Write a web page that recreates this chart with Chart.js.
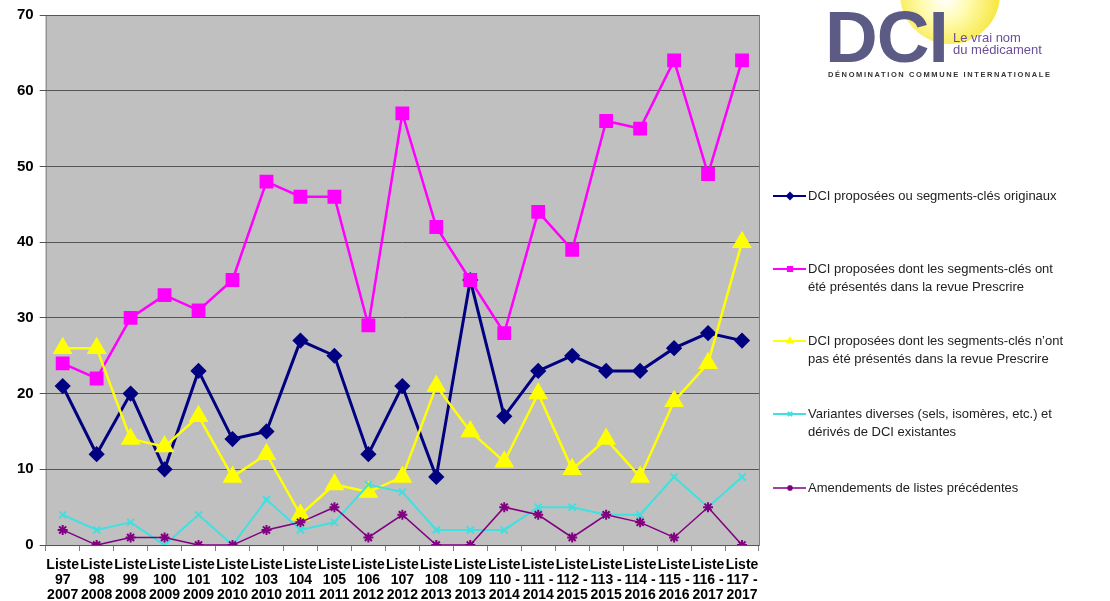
<!DOCTYPE html>
<html>
<head>
<meta charset="utf-8">
<script src="https://cdn.jsdelivr.net/npm/chart.js@4.4.0/dist/chart.umd.min.js"></script>
<style>
  body { margin: 0; background: #fff; overflow: hidden; }
  #wrap { position: relative; width: 1110px; height: 601px; overflow: hidden; }
  #logo { position: absolute; left: 820px; top: 0; width: 280px; height: 90px; font-family: Arial, "Liberation Sans", sans-serif; }
  #sun { position: absolute; left: 80px; top: -56px; width: 100px; height: 100px; border-radius: 50%;
         background: radial-gradient(circle at 45% 55%, #ffffff 0%, #fffbb0 30%, #f8e640 70%, #ecd000 100%); }
  #dci { position: absolute; left: 5px; top: -5px; font-size: 73px; font-weight: bold; color: #5c5b85; letter-spacing: -1px; }
  #tag { position: absolute; left: 133px; top: 32px; font-size: 13px; line-height: 12px; color: #6a4f98; }
  #sub { position: absolute; left: 8px; top: 70px; font-size: 7.5px; font-weight: bold; color: #333; letter-spacing: 1.6px; white-space: nowrap; }
</style>
</head>
<body>
<div id="wrap">
  <canvas id="chart" width="1110" height="610"></canvas>
  <div id="logo">
    <div id="sun"></div>
    <div id="dci">DCI</div>
    <div id="tag">Le vrai nom<br>du médicament</div>
    <div id="sub">DÉNOMINATION COMMUNE INTERNATIONALE</div>
  </div>
</div>
<script>
// Categories (x axis)
const listes = ['97', '98', '99', '100', '101', '102', '103', '104', '105', '106', '107',
                '108', '109', '110 -', '111 -', '112 -', '113 -', '114 -', '115 -', '116 -', '117 -'];
const annees = ['2007', '2008', '2008', '2009', '2009', '2010', '2010', '2011', '2011', '2012', '2012',
                '2013', '2013', '2014', '2014', '2015', '2015', '2016', '2016', '2017', '2017'];

// Series values
const originaux   = [21, 12, 20, 10, 23, 14, 15, 27, 25, 12, 21, 9, 35, 17, 23, 25, 23, 23, 26, 28, 27];
const presentes   = [24, 22, 30, 33, 31, 35, 48, 46, 46, 29, 57, 42, 35, 28, 44, 39, 56, 55, 64, 49, 64];
const nonPresentes = [26, 26, 14, 13, 17, 9, 12, 4, 8, 7, 9, 21, 15, 11, 20, 10, 14, 9, 19, 24, 40];
const variantes   = [4, 2, 3, 0, 4, 0, 6, 2, 3, 8, 7, 2, 2, 2, 5, 5, 4, 4, 9, 5, 9];
const amendements = [2, 0, 1, 1, 0, 0, 2, 3, 5, 1, 4, 0, 0, 5, 4, 1, 4, 3, 1, 5, 0];

const seriesNames = [
    ['DCI proposées ou segments-clés originaux'],
    ['DCI proposées dont les segments-clés ont', 'été présentés dans la revue Prescrire'],
    ['DCI proposées dont les segments-clés n\u2019ont', 'pas été présentés dans la revue Prescrire'],
    ['Variantes diverses (sels, isomères, etc.) et', 'dérivés de DCI existantes'],
    ['Amendements de listes précédentes']
];

const labels = listes.map((n, i) => ['Liste', n, annees[i]]);

// Grey plot background
const plotBackground = {
    id: 'plotBackground',
    beforeDraw(chart) {
        const { ctx, chartArea: a } = chart;
        ctx.save();
        ctx.fillStyle = '#c0c0c0';
        ctx.fillRect(a.left, a.top, a.right - a.left, a.bottom - a.top);
        ctx.strokeStyle = '#808080';
        ctx.lineWidth = 1;
        ctx.strokeRect(a.left + 0.5, a.top + 0.5, a.right - a.left, a.bottom - a.top);
        ctx.restore();
    }
};

// Legend drawn at the right, lines wrap like the original
const sideLegend = {
    id: 'sideLegend',
    afterDraw(chart) {
        const ctx = chart.ctx;
        const ys = [196, 269, 341, 414, 488];
        ctx.save();
        ctx.font = '13px Arial, "Liberation Sans", sans-serif';
        ctx.textBaseline = 'middle';
        chart.data.datasets.forEach((ds, i) => {
            const y = ys[i];
            ctx.strokeStyle = ds.borderColor;
            ctx.lineWidth = Math.min(ds.borderWidth, 2);
            ctx.beginPath();
            ctx.moveTo(773, y);
            ctx.lineTo(806, y);
            ctx.stroke();
            ctx.fillStyle = ds.pointBackgroundColor;
            ctx.strokeStyle = ds.pointBorderColor;
            Chart.helpers.drawPoint(ctx, {
                pointStyle: ds.pointStyle,
                radius: 3,
                borderWidth: 1
            }, 790, y);
            ctx.fillStyle = '#222';
            seriesNames[i].forEach((line, k) => {
                ctx.fillText(line, 808, y + k * 18);
            });
        });
        ctx.restore();
    }
};

const ctx = document.getElementById('chart').getContext('2d');
new Chart(ctx, {
    type: 'line',
    data: {
        labels: labels,
        datasets: [
            {
                data: originaux, borderColor: '#000080', backgroundColor: '#000080',
                pointBackgroundColor: '#000080', pointBorderColor: '#000080',
                borderWidth: 3, pointStyle: 'rectRot', pointRadius: 6, order: 5
            },
            {
                data: presentes, borderColor: '#ff00ff', backgroundColor: '#ff00ff',
                pointBackgroundColor: '#ff00ff', pointBorderColor: '#ff00ff',
                borderWidth: 2.5, pointStyle: 'rect', pointRadius: 8, order: 4
            },
            {
                data: nonPresentes, borderColor: '#ffff00', backgroundColor: '#ffff00',
                pointBackgroundColor: '#ffff00', pointBorderColor: '#ffff00',
                borderWidth: 2.5, pointStyle: 'triangle', pointRadius: 9, order: 3
            },
            {
                data: variantes, borderColor: '#40e0e0', backgroundColor: '#40e0e0',
                pointBackgroundColor: '#40e0e0', pointBorderColor: '#40e0e0',
                borderWidth: 2, pointStyle: 'crossRot', pointRadius: 5, pointBorderWidth: 2, order: 2
            },
            {
                data: amendements, borderColor: '#800080', backgroundColor: '#800080',
                pointBackgroundColor: '#800080', pointBorderColor: '#800080',
                borderWidth: 1.5, pointStyle: 'star', pointRadius: 5, pointBorderWidth: 2, order: 1
            }
        ]
    },
    options: {
        responsive: false,
        animation: false,
        layout: { padding: { top: 10, right: 351, left: 11, bottom: 0 } },
        plugins: {
            legend: { display: false },
            tooltip: { enabled: false }
        },
        elements: { line: { tension: 0 } },
        scales: {
            x: {
                offset: true,
                grid: {
                    offset: true, drawOnChartArea: false, color: '#808080',
                    tickLength: 6
                },
                border: { display: false },
                ticks: {
                    autoSkip: false, maxRotation: 0, minRotation: 0, padding: 7,
                    color: '#000',
                    font: { family: 'Arial, "Liberation Sans", sans-serif', size: 14, weight: 'bold', lineHeight: 1.07 }
                }
            },
            y: {
                min: 0, max: 70,
                grid: { color: '#555555', lineWidth: 1, tickLength: 6 },
                border: { display: false },
                ticks: {
                    stepSize: 10, padding: 6, color: '#000',
                    font: { family: 'Arial, "Liberation Sans", sans-serif', size: 15, weight: 'bold' }
                }
            }
        }
    },
    plugins: [plotBackground, sideLegend]
});
</script>
</body>
</html>
